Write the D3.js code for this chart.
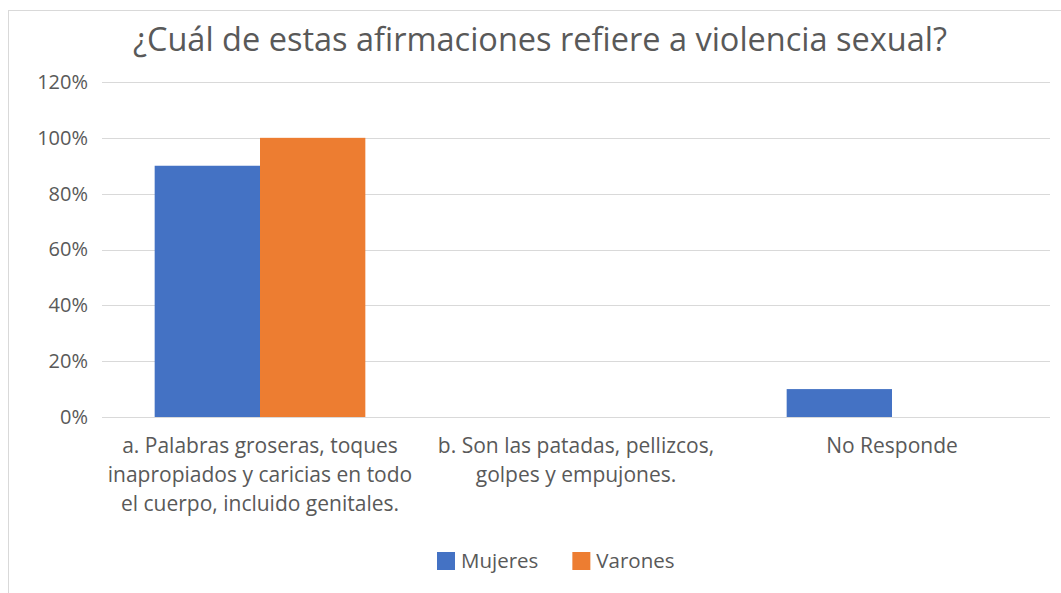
<!DOCTYPE html>
<html>
<head>
<meta charset="utf-8">
<script src="https://cdn.jsdelivr.net/npm/d3@7"></script>
<style>
  body { margin: 0; background: #fff; }
  text { font-family: "Open Sans", "Noto Sans", sans-serif; fill: #595959; }
</style>
</head>
<body>
<div id="chart"></div>
<script>
const categories = [
    ['a. Palabras groseras, toques', 'inapropiados y caricias en todo', 'el cuerpo, incluido genitales.'],
    ['b. Son las patadas, pellizcos,', 'golpes y empujones.'],
    ['No Responde']
];
const seriesNames = ['Mujeres', 'Varones'];
const mujeres = [90, 0, 10];
const varones = [100, 0, 0];
const yTicks = [0, 20, 40, 60, 80, 100, 120];
const colors = ['#4472C4', '#ED7D31'];

const size = { width: 1061, height: 593 };
const padding = { top: 82, right: 11, bottom: 176, left: 102 };
const plotW = size.width - padding.left - padding.right;
const plotH = size.height - padding.top - padding.bottom;

const svg = d3.select('#chart')
    .append('svg')
    .attr('width', size.width)
    .attr('height', size.height);

// chart frame
svg.append('rect')
    .attr('x', 8.5).attr('y', 10.5)
    .attr('width', 1070).attr('height', 600)
    .attr('fill', 'none')
    .attr('stroke', '#d9d9d9');

svg.append('text')
    .attr('x', 540)
    .attr('y', 51)
    .attr('text-anchor', 'middle')
    .style('font-size', '32.5px')
    .text('¿Cuál de estas afirmaciones refiere a violencia sexual?');

const graph = svg.append('g')
    .attr('transform', `translate(${padding.left}, ${padding.top})`);

const x = d3.scaleBand().domain(d3.range(categories.length)).range([0, plotW]);
const xInner = d3.scaleBand().domain(d3.range(seriesNames.length))
    .range([0, x.bandwidth()]).paddingOuter(0.5).paddingInner(0);
const y = d3.scaleLinear().domain([0, 120]).range([plotH, 0]);

// gridlines
graph.append('g')
    .selectAll('line')
    .data(yTicks)
    .enter()
    .append('line')
        .attr('x1', 0)
        .attr('x2', plotW)
        .attr('y1', d => Math.round(y(d)) + 0.5)
        .attr('y2', d => Math.round(y(d)) + 0.5)
        .attr('stroke', '#d9d9d9')
        .attr('stroke-width', 1);

const yAxis = d3.axisLeft(y).tickValues(yTicks).tickFormat(d => d + '%').tickSize(0).tickPadding(14);
const gy = graph.append('g').call(yAxis);
gy.select('.domain').remove();
gy.selectAll('text').style('font-size', '20px').attr('fill', '#595959');

const series = [mujeres, varones];
series.forEach((vals, s) => {
    graph.append('g')
        .selectAll('rect')
        .data(vals)
        .enter()
        .append('rect')
            .attr('x', (d, i) => x(i) + xInner(s))
            .attr('y', d => y(d))
            .attr('width', xInner.bandwidth())
            .attr('height', d => plotH - y(d))
            .attr('fill', colors[s]);
});

// category labels
categories.forEach((lines, i) => {
    const t = graph.append('text')
        .attr('text-anchor', 'middle')
        .style('font-size', '21px');
    lines.forEach((line, j) => {
        t.append('tspan')
            .attr('x', x(i) + x.bandwidth() / 2)
            .attr('y', plotH + 36 + j * 29)
            .text(line);
    });
});

// legend
const legend = svg.append('g').attr('transform', 'translate(437, 552)');
let lx = 0;
seriesNames.forEach((name, i) => {
    const g = legend.append('g').attr('transform', `translate(${lx}, 0)`);
    g.append('rect')
        .attr('width', 18).attr('height', 18)
        .attr('fill', colors[i]);
    const t = g.append('text')
        .attr('x', 24).attr('y', 16)
        .style('font-size', '20.5px')
        .text(name);
    lx += 24 + t.node().getComputedTextLength() + 34;
});
</script>
</body>
</html>
